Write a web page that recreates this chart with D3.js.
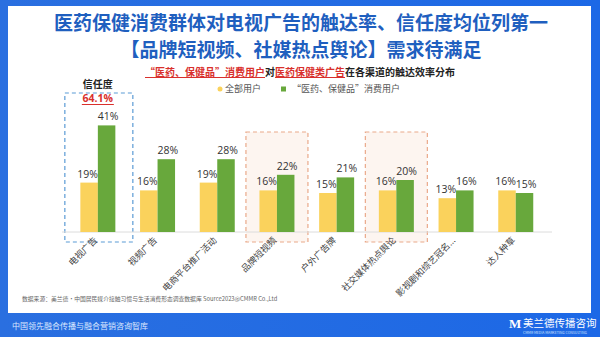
<!DOCTYPE html>
<html><head><meta charset="utf-8">
<script src="https://cdn.jsdelivr.net/npm/d3@7/dist/d3.min.js"></script>
<style>
html,body{margin:0;padding:0;background:#fff;}
svg{display:block;font-family:"Noto Sans CJK SC","Noto Sans",sans-serif;}
</style></head>
<body>
<svg id="c" width="600" height="337"></svg>
<script>
const categories = ["电视广告","视频广告","电商平台推广活动","品牌短视频","户外广告牌","社交媒体热点舆论","影视剧和综艺冠名...","达人种草"];
const allUsers = [19,16,19,16,15,16,13,16];
const healthUsers = [41,28,28,22,21,20,16,15];
const seriesNames = ["全部用户","“医药、保健品”消费用户"];
const trustLabel = "信任度";
const trustValue = "64.1%";
const highlightBlue = ["电视广告"];
const highlightOrange = ["品牌短视频","社交媒体热点舆论"];

const svg = d3.select("#c");
const W = 600, H = 337;
// frame
const grad = svg.append("defs").append("linearGradient").attr("id","bg").attr("x1",0).attr("x2",1).attr("y1",0).attr("y2",0);
grad.append("stop").attr("offset","0%").attr("stop-color","#2a6fe0");
grad.append("stop").attr("offset","100%").attr("stop-color","#1c68e6");
svg.append("rect").attr("width",W).attr("height",H).attr("fill","url(#bg)");
svg.append("rect").attr("x",8).attr("y",6).attr("width",583).attr("height",307).attr("fill","#ffffff");

// title
const title = svg.append("g").attr("fill","#1f5fbf").attr("font-weight","bold").attr("font-size",19).attr("text-anchor","middle");
title.append("text").attr("x",301).attr("y",30).text("医药保健消费群体对电视广告的触达率、信任度均位列第一");
title.append("text").attr("x",301).attr("y",57).text("【品牌短视频、社媒热点舆论】需求待满足");

// subtitle
const sub = svg.append("text").attr("x",300).attr("y",76).attr("text-anchor","middle").attr("font-size",10).attr("font-weight","bold").attr("fill","#222");
sub.append("tspan").attr("fill","#d9302c").attr("text-decoration","underline").text("“医药、保健品”消费用户");
sub.append("tspan").text("对");
sub.append("tspan").attr("fill","#d9302c").attr("text-decoration","underline").text("医药保健类广告");
sub.append("tspan").text("在各渠道的触达效率分布");

// scales
const x0 = d3.scaleBand().domain(categories).range([68,545.6]).paddingInner(0).paddingOuter(0);
const y = d3.scaleLinear().domain([0,45]).range([232,115]);
const bw = 17.5;

// highlight boxes
categories.forEach((c,i)=>{
  const cx = x0(c)+x0.bandwidth()/2;
  if(highlightBlue.includes(c)){
    svg.append("rect").attr("x",cx-33).attr("y",93).attr("width",68).attr("height",149)
      .attr("fill","none").attr("stroke","#5b9bd5").attr("stroke-width",1.2).attr("stroke-dasharray","4,3");
  }
  if(highlightOrange.includes(c)){
    svg.append("rect").attr("x",cx-31).attr("y",132).attr("width",62).attr("height",110)
      .attr("fill","#fdf5f0").attr("stroke","#eaa98a").attr("stroke-width",1.2).attr("stroke-dasharray","4,3");
  }
});

// baseline
svg.append("line").attr("x1",62).attr("x2",552).attr("y1",y(0)).attr("y2",y(0)).attr("stroke","#dcdcdc").attr("stroke-width",1);

// bars
const g = svg.append("g");
categories.forEach((c,i)=>{
  const cx = x0(c)+x0.bandwidth()/2;
  const vals = [allUsers[i], healthUsers[i]];
  const cols = ["#fad25c","#68a83c"];
  vals.forEach((v,j)=>{
    const bx = j===0 ? cx-bw : cx;
    g.append("rect").attr("x",bx).attr("y",y(v)).attr("width",bw).attr("height",y(0)-y(v)).attr("fill",cols[j]);
    g.append("text").attr("x",bx+bw/2+(j===0?-1.5:1.5)).attr("y",y(v)-5).attr("text-anchor","middle")
      .attr("font-size",10.5).attr("fill","#333").attr("font-family","Open Sans, Noto Sans, sans-serif").text(v+"%");
  });
  // x label
  g.append("text").attr("transform",`translate(${cx},241) rotate(-45)`).attr("text-anchor","end")
    .attr("font-size",9).attr("fill","#444").text(c);
});

// trust annotation
const c0 = x0(highlightBlue[0])+x0.bandwidth()/2;
svg.append("text").attr("x",c0).attr("y",87.5).attr("text-anchor","middle").attr("font-size",10).attr("font-weight","bold").attr("fill","#222").text(trustLabel);
svg.append("text").attr("x",c0).attr("y",102).attr("text-anchor","middle").attr("font-size",10.5).attr("font-weight","bold").attr("fill","#d9302c").attr("font-family","Open Sans, Noto Sans, sans-serif").text(trustValue);
svg.append("line").attr("x1",c0-16).attr("x2",c0+16).attr("y1",104.5).attr("y2",104.5).attr("stroke","#d9302c").attr("stroke-width",1);

// legend
const lg = svg.append("g").attr("font-size",9).attr("fill","#555");
lg.append("circle").attr("cx",220).attr("cy",89).attr("r",2.5).attr("fill","#fad25c");
lg.append("text").attr("x",225).attr("y",92).text(seriesNames[0]);
lg.append("rect").attr("x",281).attr("y",86.5).attr("width",5).attr("height",5).attr("fill","#68a83c");
lg.append("text").attr("x",292).attr("y",92).text(seriesNames[1]);

// source
svg.append("text").attr("x",22).attr("y",301).attr("font-size",5.8).attr("fill","#666")
  .text("数据来源：美兰德•中国居民媒介接触习惯与生活消费形态调查数据库 Source2023@CMMR Co.,Ltd");

// footer
svg.append("text").attr("x",12).attr("y",329).attr("font-size",8).attr("fill","#dbe8ff").text("中国领先融合传播与融合营销咨询智库");
svg.append("text").attr("x",509).attr("y",328).attr("font-size",13).attr("font-weight","bold").attr("fill","#fff").attr("font-family","serif").text("M");
svg.append("text").attr("x",523).attr("y",327).attr("font-size",10.5).attr("fill","#fff").text("美兰德传播咨询");
svg.append("text").attr("x",523).attr("y",334).attr("font-size",3.5).attr("fill","#cfe0ff").text("CMMR MEDIA MARKETING CONSULTING");
</script>
</body></html>
